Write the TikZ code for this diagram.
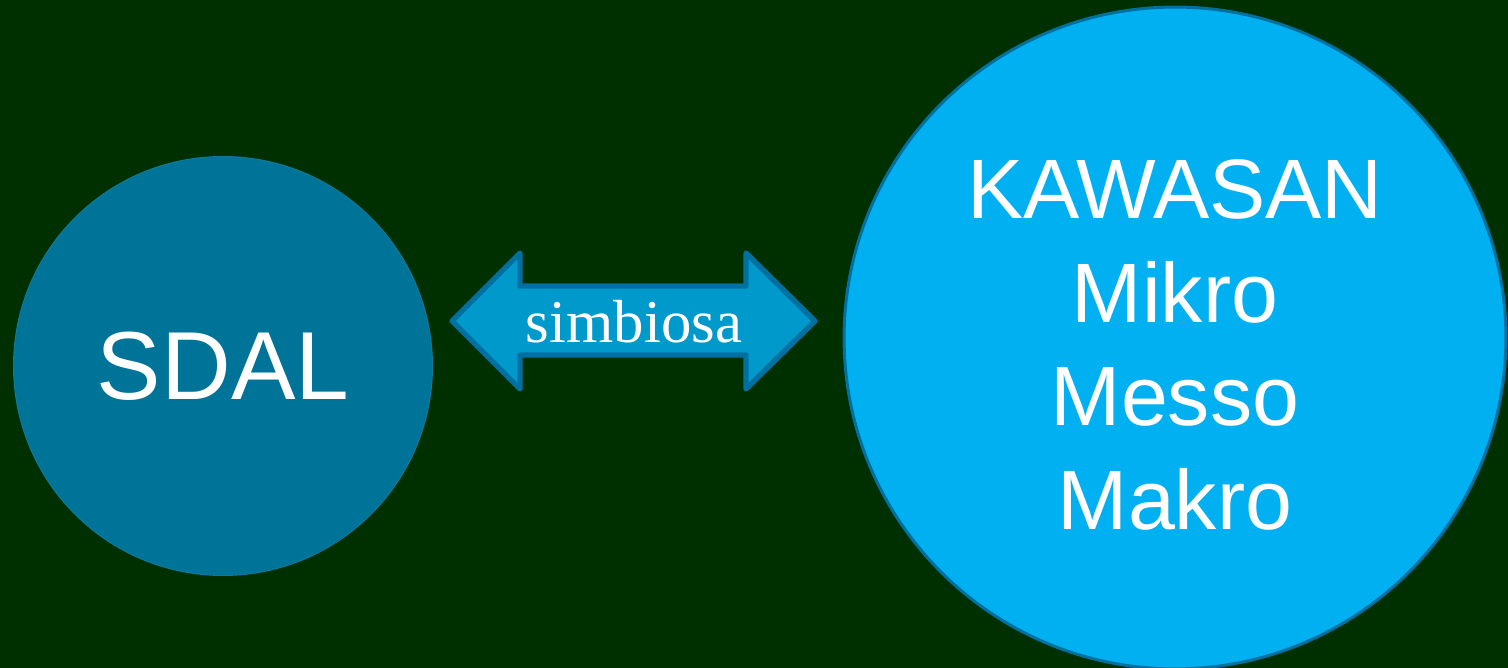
\documentclass[tikz,border=0pt]{standalone}
\usepackage{fontspec}
\setmainfont{Liberation Serif}
\setsansfont{Liberation Sans}
\usepackage{xcolor}
\usepackage{tikz}
\usetikzlibrary{calc, positioning, backgrounds}

\definecolor{bgGreen}{RGB}{0,48,0}
\definecolor{sdalBlue}{RGB}{0,115,152}
\definecolor{kawasanBlue}{RGB}{0,176,240}
\definecolor{edgeBlue}{RGB}{0,112,160}
\definecolor{arrowBlue}{RGB}{0,153,204}

\begin{document}
\begin{tikzpicture}[x=0.02cm,y=-0.02cm,
                    main node/.style={circle,inner sep=0pt,font=\sffamily,text=white},
                    label node/.style={inner sep=0pt,text=white,align=center}]
 \useasboundingbox[fill=bgGreen] (0,0) rectangle (1508,668);

%Left circle
 \node[main node,fill=sdalBlue,draw=sdalBlue!95!white,line width=0.6pt,minimum size=8.38cm,
       font=\sffamily\fontsize{55}{66}\selectfont] (SDAL) at (223,366) {SDAL};

%Right circle
 \node[main node,fill=kawasanBlue,draw=edgeBlue,line width=1.7pt,minimum size=13.24cm] (Kawasan) at (1175,338) {};
 \node[label node,font=\sffamily\fontsize{48}{59}\selectfont] (KawasanText) at (1175,345)
      {KAWASAN\\Mikro\\Messo\\Makro};

%Double arrow between them
 \draw[fill=arrowBlue,draw=edgeBlue,line width=3pt,line join=round]
   (452,321) -- (520,253) -- (520,286) -- (746,286) -- (746,253) -- (815,321)
   -- (746,389) -- (746,355) -- (520,355) -- (520,389) -- cycle;
 \node[label node,font=\fontsize{34.6}{40}\selectfont] (Simbiosa) at (634,322) {simbiosa};

\end{tikzpicture}
\end{document}
